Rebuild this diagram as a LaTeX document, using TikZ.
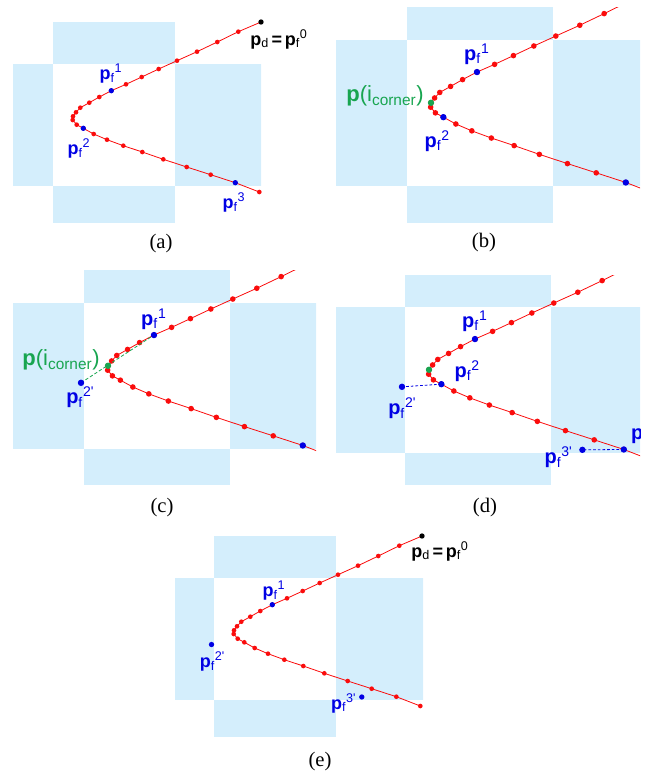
\documentclass[tikz,border=0pt]{standalone}
\usepackage{fontspec}
\setmainfont{Liberation Serif}
\newfontfamily\labfont{Liberation Sans}
\definecolor{cellblue}{RGB}{212,238,252}
\definecolor{dotred}{RGB}{250,12,12}
\definecolor{dotblue}{RGB}{0,0,228}
\definecolor{dotgreen}{RGB}{24,165,80}
\tikzset{
  cell/.style={fill=cellblue},
  trajline/.style={draw=dotred, line width=0.6pt},
  reddot/.style={fill=dotred},
  bluedot/.style={fill=dotblue},
  greendot/.style={fill=dotgreen},
  blackdot/.style={fill=black},
  bdash/.style={draw=dotblue, line width=0.6pt, dash pattern=on 2pt off 1.5pt},
  gdash/.style={draw=dotgreen, line width=0.6pt, dash pattern=on 2.5pt off 1.5pt},
  flab/.style={font=\labfont\fontsize{13.5}{16}\selectfont, text=dotblue, inner sep=0pt, anchor=base west},
  flabbig/.style={flab, font=\labfont\fontsize{15}{17}\selectfont},
  clab/.style={font=\labfont\fontsize{16.5}{19}\selectfont, text=dotgreen, inner sep=0pt, anchor=base east},
  dlab/.style={flab, text=black},
  caption/.style={font=\fontsize{15.5}{18}\selectfont, inner sep=0pt}
}
\newcommand{\pf}[1]{\textbf{p}\textsubscript{f}\textsuperscript{#1}}
\newcommand{\pfp}[1]{\textbf{p}\textsubscript{f}\textsuperscript{#1\textquotesingle}}
\newcommand{\pcorner}{\textbf{p}(i\textsubscript{corner})}
\newcommand{\pdeq}{\textbf{p}\textsubscript{d}\hspace{2pt}\textbf{=}\hspace{2pt}\textbf{p}\textsubscript{f}\textsuperscript{0}}
% world coordinates: origin at the top left corner of the free cell
\def\trajlist{185.3/-32.3, 164.3/-22, 144/-12.3, 124/-3.3, 105.7/5, 88.7/13,
  73/20.3, 58.3/26.7, 46.3/33, 36.3/38.7, 27.3/43.7, 23/48.3, 20/52.3, 19.7/56,
  23.7/60.7, 30.3/64.3, 40.7/70, 54/75.7, 70.3/81.7, 89.3/88, 110.3/95.3,
  133.7/103, 157.7/110.7, 182.3/118.7, 206.3/128}
\newcommand{\cells}{%
  \fill[cell] (0,-122) rectangle (122,0);
  \fill[cell] (-122,0) rectangle (0,121.5);
  \fill[cell] (122,0) rectangle (244,121.5);
  \fill[cell] (0,121.5) rectangle (122,243);
}
\newcommand{\keypts}{%
  \coordinate (p0) at (208,-42);
  \coordinate (pf1) at (58.3,26.7);
  \coordinate (pc) at (20,52.3);
  \coordinate (pf2) at (30.3,64.3);
  \coordinate (pf3) at (182.3,118.7);
  \coordinate (pf2p) at (-2.5,66.5);
  \coordinate (pf3p) at (147.8,119);
}
\newcommand{\traj}{%
  \draw[trajline] (208,-42) \foreach \x/\y in \trajlist {-- (\x,\y)};
  \foreach \x/\y in \trajlist {\fill[reddot] (\x,\y) circle (1.75pt);}
}
\begin{document}
\begin{tikzpicture}[x=0.75pt, y=-0.75pt]
\useasboundingbox (0,0) rectangle (651,775);

% (a)
\begin{scope}[name prefix=a-]
  \begin{scope}
    \clip (13,22) rectangle (261,222);
    \begin{scope}[shift={(53,64)}] \cells \end{scope}
  \end{scope}
  \begin{scope}[shift={(53,64)}]
    \keypts \traj
    \fill[blackdot] (p0) circle (2pt);
    \fill[bluedot] (pf1) circle (2pt);
    \fill[bluedot] (pf2) circle (2pt);
    \fill[bluedot] (pf3) circle (2pt);
  \end{scope}
  \node[dlab] (l0) at ([shift={(-11,23)}]p0) {\pdeq};
  \node[flab] (l1) at ([shift={(-12,-11)}]pf1) {\pf{1}};
  \node[flab] (l2) at ([shift={(-16,26)}]pf2) {\pf{2}};
  \node[flab] (l3) at ([shift={(-13,26)}]pf3) {\pf{3}};
\end{scope}
\node[caption] (capa) at (161,244) {(a)};

% (b)
\begin{scope}[name prefix=b-]
  \clip (336,7) rectangle (640,222);
  \begin{scope}[shift={(407,40)}, scale=1.2]
    \cells \keypts \traj
    \fill[bluedot] (pf1) circle (2pt);
    \fill[greendot] (pc) circle (2pt);
    \fill[bluedot] (pf2) circle (2pt);
    \fill[bluedot] (pf3) circle (2pt);
  \end{scope}
  \node[clab] (lc) at ([shift={(-7,-1)}]pc) {\pcorner};
  \node[flabbig] (l1) at ([shift={(-13,-12)}]pf1) {\pf{1}};
  \node[flabbig] (l2) at ([shift={(-19,30)}]pf2) {\pf{2}};
\end{scope}
\node[caption] (capb) at (484,243) {(b)};

% (c)
\begin{scope}[name prefix=c-]
  \clip (13,270) rectangle (316,484);
  \begin{scope}[shift={(84,303)}, scale=1.2]
    \cells \keypts \traj
    \draw[gdash] (pf2p) -- (pf1);
    \fill[bluedot] (pf1) circle (2pt);
    \fill[greendot] (pc) circle (2pt);
    \fill[bluedot] (pf3) circle (2pt);
    \fill[bluedot] (pf2p) circle (2pt);
  \end{scope}
  \node[clab] (lc) at ([shift={(-8,0)}]pc) {\pcorner};
  \node[flabbig] (l1) at ([shift={(-13,-10)}]pf1) {\pf{1}};
  \node[flabbig] (l2) at ([shift={(-15,21)}]pf2p) {\pfp{2}};
\end{scope}
\node[caption] (capc) at (162,508) {(c)};

% (d)
\begin{scope}[name prefix=d-]
  \clip (336,275) rectangle (640,484);
  \begin{scope}[shift={(405,307)}, scale=1.2]
    \cells \keypts \traj
    \draw[bdash] (pf2) -- (pf2p);
    \draw[bdash] (pf3) -- (pf3p);
    \fill[bluedot] (pf1) circle (2pt);
    \fill[greendot] (pc) circle (2pt);
    \fill[bluedot] (pf2) circle (2pt);
    \fill[bluedot] (pf3) circle (2pt);
    \fill[bluedot] (pf2p) circle (2pt);
    \fill[bluedot] (pf3p) circle (2pt);
  \end{scope}
  \node[flabbig] (l1) at ([shift={(-13,-12)}]pf1) {\pf{1}};
  \node[flabbig] (l2) at ([shift={(13,-7)}]pf2) {\pf{2}};
  \node[flabbig] (l2p) at ([shift={(-14,28)}]pf2p) {\pfp{2}};
  \node[flabbig] (l3p) at ([shift={(-38,14)}]pf3p) {\pfp{3}};
  \node[flabbig] (l3) at ([shift={(7,-10)}]pf3) {\pf{3}};
\end{scope}
\node[caption] (capd) at (485,508) {(d)};

% (e)
\begin{scope}[name prefix=e-]
  \begin{scope}
    \clip (175,536) rectangle (423,736);
    \begin{scope}[shift={(214,578)}] \cells \end{scope}
  \end{scope}
  \begin{scope}[shift={(214,578)}]
    \keypts \traj
    \fill[blackdot] (p0) circle (2pt);
    \fill[bluedot] (pf1) circle (2pt);
    \fill[bluedot] (pf2p) circle (2pt);
    \fill[bluedot] (pf3p) circle (2pt);
  \end{scope}
  \node[dlab] (l0) at ([shift={(-11,21)}]p0) {\pdeq};
  \node[flab] (l1) at ([shift={(-10,-8)}]pf1) {\pf{1}};
  \node[flab] (l2p) at ([shift={(-12,23)}]pf2p) {\pfp{2}};
  \node[flab] (l3p) at ([shift={(-31,12)}]pf3p) {\pfp{3}};
\end{scope}
\node[caption] (cape) at (320,762) {(e)};
\end{tikzpicture}
\end{document}
